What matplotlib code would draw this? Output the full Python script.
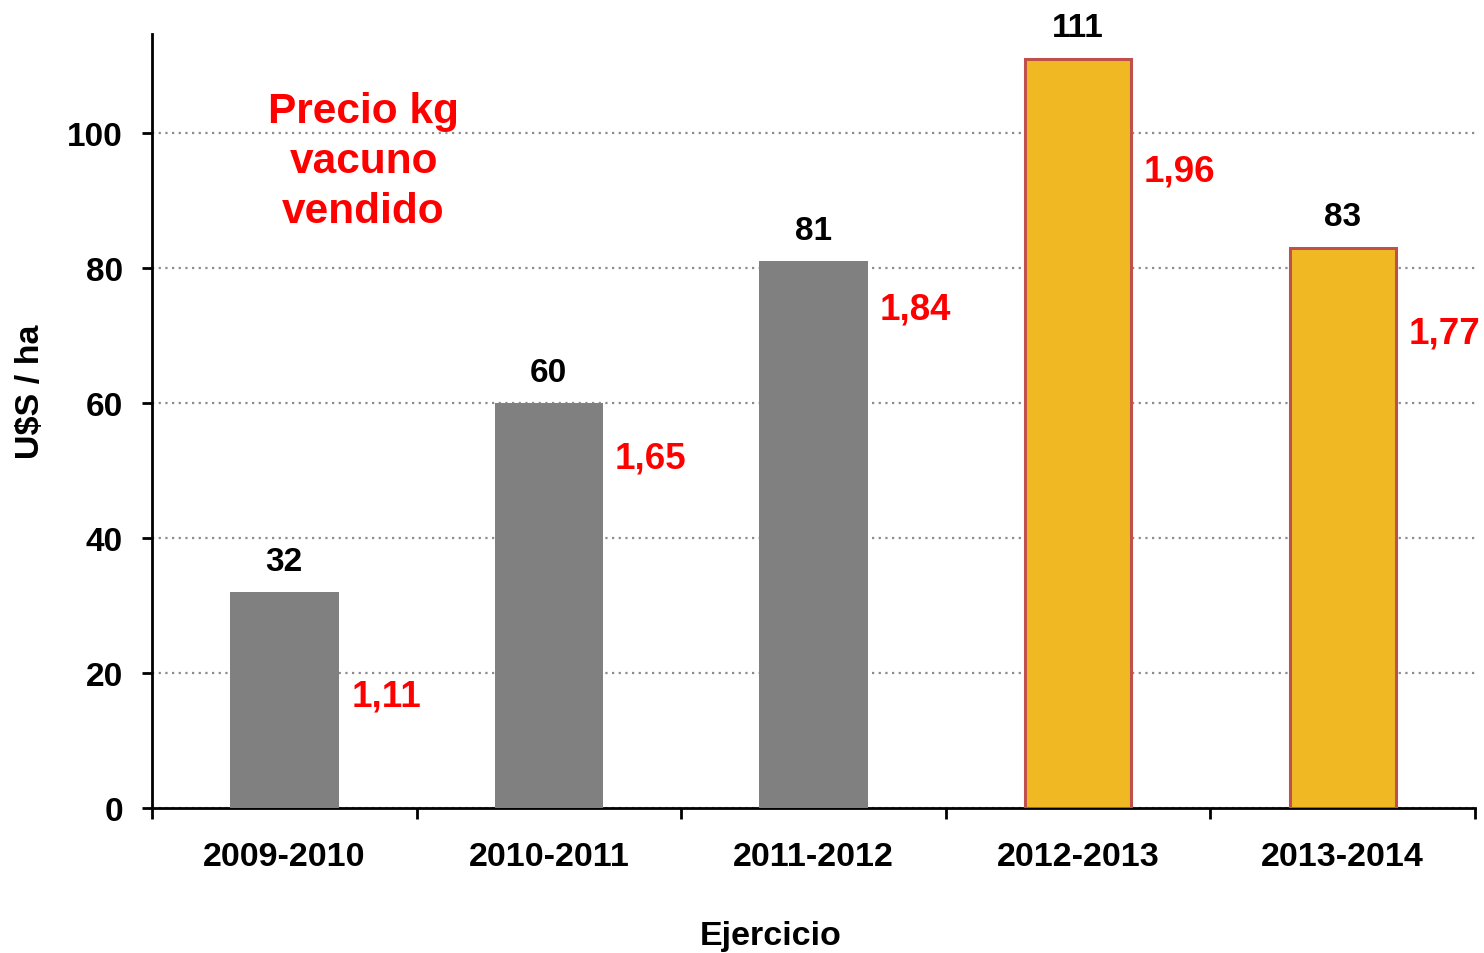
import matplotlib.pyplot as plt
import numpy as np

plt.rcParams['font.family'] = ['Liberation Sans', 'DejaVu Sans']
plt.rcParams['font.weight'] = 'bold'

ejercicios = ['2009-2010', '2010-2011', '2011-2012', '2012-2013', '2013-2014']
uss_ha = [32, 60, 81, 111, 83]
precio_kg = ['1,11', '1,65', '1,84', '1,96', '1,77']
y_ticks = [0, 20, 40, 60, 80, 100]

# alturas de las etiquetas de precio (layout)
precio_y = [16.6, 51.9, 74.0, 94.4, 70.4]

gris = '#808080'
amarillo = '#F0B823'
borde = '#C0504D'

fig = plt.figure(figsize=(14.84, 9.54), dpi=100)
ax = fig.add_axes([0.1024, 0.152, 0.8915, 0.8113])

x = np.arange(len(ejercicios))
for i, v in enumerate(uss_ha):
    if i < 3:
        ax.bar(x[i], v, width=0.41, color=gris, zorder=3)
    else:
        ax.bar(x[i], v, width=0.40, color=amarillo, edgecolor=borde,
               linewidth=2.2, zorder=3)
    ax.text(x[i], v + 2.3, str(v), ha='center', va='bottom',
            fontsize=24, fontweight='bold', color='black')
    ax.text(x[i] + 0.385, precio_y[i], precio_kg[i], ha='center', va='center',
            fontsize=26.5, fontweight='bold', color='#FF0000', zorder=4)

ax.text(0.3, 95.9, 'Precio kg\nvacuno\nvendido', ha='center', va='center',
        fontsize=30.5, fontweight='bold', color='#FF0000', linespacing=1.33)

ax.set_xlim(-0.5, 4.5)
ax.set_ylim(0, 114.7)
ax.set_yticks(y_ticks)
ax.set_xticks(x)
ax.set_xticklabels(ejercicios)
ax.set_xticks(np.arange(-0.5, 5, 1), minor=True)

ax.grid(axis='y', linestyle=(0, (1, 2)), color='#8C8C8C', linewidth=1.6, zorder=0)
ax.set_axisbelow(True)

for s in ['top', 'right']:
    ax.spines[s].set_visible(False)
for s in ['left', 'bottom']:
    ax.spines[s].set_linewidth(2)

ax.tick_params(axis='x', which='major', length=0, pad=24, labelsize=24.5)
ax.tick_params(axis='x', which='minor', length=8, width=2, direction='out')
ax.tick_params(axis='y', length=7, width=2, direction='out', pad=14, labelsize=24)
for lab in ax.get_xticklabels() + ax.get_yticklabels():
    lab.set_fontweight('bold')

fig.text(771 / 1484, 1 - 937 / 954, 'Ejercicio', ha='center', va='center',
         fontsize=24.5, fontweight='bold')
fig.text(31 / 1484, 1 - 392 / 954, 'U$S / ha', ha='center', va='center',
         rotation=90, fontsize=24.5, fontweight='bold')

fig.savefig('out.png', dpi=100)
